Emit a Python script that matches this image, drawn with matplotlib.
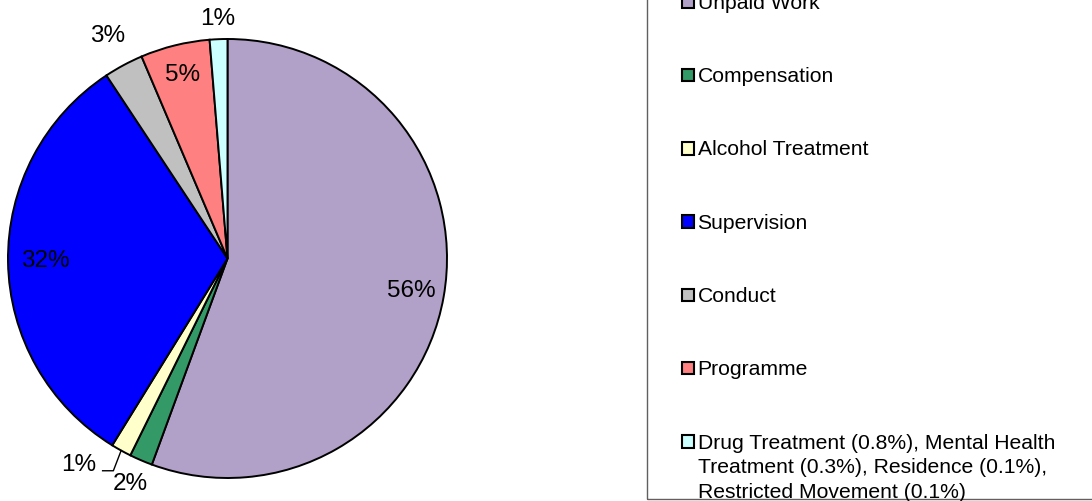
import numpy as np
import matplotlib.pyplot as plt
from matplotlib.patches import Rectangle

plt.rcParams['font.family'] = ['Liberation Sans', 'DejaVu Sans']

# data (share of requirements, %)
categories = ["Unpaid Work", "Compensation", "Alcohol Treatment", "Supervision",
              "Conduct", "Programme",
              "Drug Treatment (0.8%), Mental Health\nTreatment (0.3%), Residence (0.1%),\nRestricted Movement (0.1%)"]
values = [55.6, 1.7, 1.5, 31.9, 2.9, 5.1, 1.3]
pct_labels = ["56%", "2%", "1%", "32%", "3%", "5%", "1%"]
colors = ["#B1A0C7", "#339966", "#FFFFCC", "#0000FF", "#C0C0C0", "#FF8080", "#CCFFFF"]

# label radius for each slice (relative to pie radius)
label_r = [0.85, 1.12, None, 0.83, 1.15, 0.86, 1.09]

W, H = 1092, 501
fig = plt.figure(figsize=(W / 100, H / 100), dpi=100)


def fx(px):
    return px / W


def fy(py):
    return 1 - py / H


# pie centre ~ (227.5, 258.5) px, radius ~219.5 px
cx, cy, rad = 227.5, 258.5, 219.5
ax = fig.add_axes([fx(cx - rad), fy(cy + rad), 2 * rad / W, 2 * rad / H])
wedges, _ = ax.pie(values, colors=colors, startangle=90, counterclock=False,
                   wedgeprops=dict(edgecolor="black", linewidth=1.4))
ax.set_xlim(-1, 1)
ax.set_ylim(-1, 1)
ax.set_aspect("auto")

for i, w in enumerate(wedges):
    mid = np.deg2rad((w.theta1 + w.theta2) / 2)
    if label_r[i] is None:
        # small slice with a leader line
        ex, ey = np.cos(mid), np.sin(mid)
        bx, by = -0.52, -0.967
        tx = -0.569
        ax.plot([ex, bx, tx], [ey, by, by], color="black", lw=1.0, clip_on=False)
        ax.text(tx - 0.03, -0.94, pct_labels[i], ha="right", va="center", fontsize=17.5)
        continue
    r = label_r[i]
    ax.text(r * np.cos(mid), r * np.sin(mid), pct_labels[i], ha="center", va="center",
            fontsize=17.5)

# legend box
fig.add_artist(Rectangle((fx(647), fy(499)), fx(1100) - fx(647), fy(-5) - fy(499),
                         transform=fig.transFigure, facecolor="none",
                         edgecolor="#606060", lw=1.0))

leg_y0, leg_dy = 1.7, 73.3
msize = 12.5
for i, lab in enumerate(categories):
    yc = leg_y0 + i * leg_dy
    fig.add_artist(Rectangle((fx(688 - msize / 2), fy(yc + msize / 2)), msize / W, msize / H,
                             transform=fig.transFigure, facecolor=colors[i],
                             edgecolor="black", lw=1.5))
    for j, line in enumerate(lab.split("\n")):
        fig.text(fx(697.5), fy(yc + j * 24.5 + 7.2), line, ha="left", va="baseline",
                 fontsize=15.2)

fig.savefig("out.png", dpi=100)
